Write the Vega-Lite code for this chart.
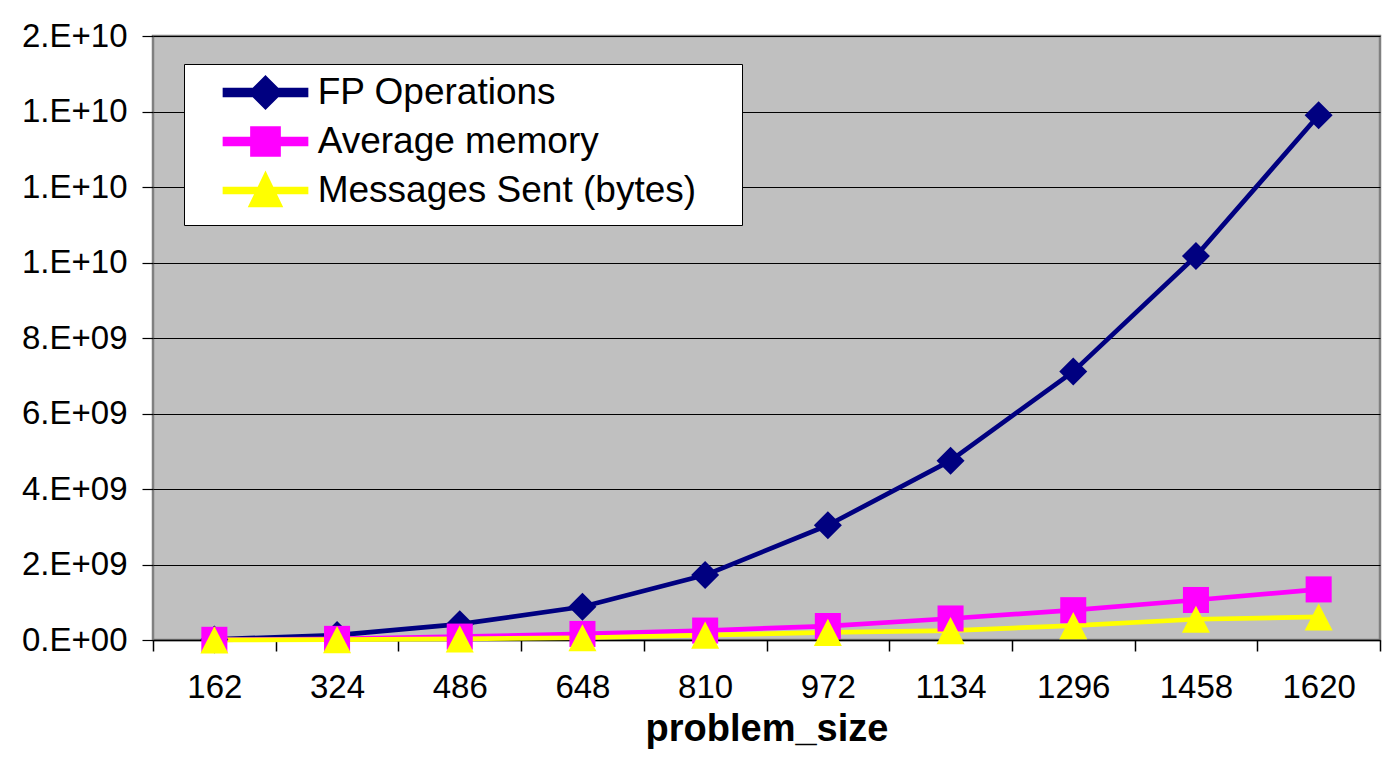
{
  "$schema": "https://vega.github.io/schema/vega-lite/v6.json",
  "width": 1227,
  "height": 604,
  "autosize": "none",
  "padding": {"left": 153, "top": 36, "right": 13, "bottom": 121},
  "background": "#ffffff",
  "config": {
    "font": "Liberation Sans",
    "view": {"fill": "#C0C0C0", "stroke": "#808080", "strokeWidth": 2.5}
  },
  "data": {
    "values": [
      {"problem_size": 162, "series": "FP Operations", "value": 15000000},
      {"problem_size": 324, "series": "FP Operations", "value": 130000000},
      {"problem_size": 486, "series": "FP Operations", "value": 420000000},
      {"problem_size": 648, "series": "FP Operations", "value": 880000000},
      {"problem_size": 810, "series": "FP Operations", "value": 1720000000},
      {"problem_size": 972, "series": "FP Operations", "value": 3040000000},
      {"problem_size": 1134, "series": "FP Operations", "value": 4750000000},
      {"problem_size": 1296, "series": "FP Operations", "value": 7110000000},
      {"problem_size": 1458, "series": "FP Operations", "value": 10170000000},
      {"problem_size": 1620, "series": "FP Operations", "value": 13900000000},
      {"problem_size": 162, "series": "Average memory", "value": 5000000},
      {"problem_size": 324, "series": "Average memory", "value": 30000000},
      {"problem_size": 486, "series": "Average memory", "value": 90000000},
      {"problem_size": 648, "series": "Average memory", "value": 160000000},
      {"problem_size": 810, "series": "Average memory", "value": 250000000},
      {"problem_size": 972, "series": "Average memory", "value": 370000000},
      {"problem_size": 1134, "series": "Average memory", "value": 570000000},
      {"problem_size": 1296, "series": "Average memory", "value": 790000000},
      {"problem_size": 1458, "series": "Average memory", "value": 1060000000},
      {"problem_size": 1620, "series": "Average memory", "value": 1340000000},
      {"problem_size": 162, "series": "Messages Sent (bytes)", "value": 2000000},
      {"problem_size": 324, "series": "Messages Sent (bytes)", "value": 10000000},
      {"problem_size": 486, "series": "Messages Sent (bytes)", "value": 30000000},
      {"problem_size": 648, "series": "Messages Sent (bytes)", "value": 60000000},
      {"problem_size": 810, "series": "Messages Sent (bytes)", "value": 130000000},
      {"problem_size": 972, "series": "Messages Sent (bytes)", "value": 200000000},
      {"problem_size": 1134, "series": "Messages Sent (bytes)", "value": 250000000},
      {"problem_size": 1296, "series": "Messages Sent (bytes)", "value": 380000000},
      {"problem_size": 1458, "series": "Messages Sent (bytes)", "value": 550000000},
      {"problem_size": 1620, "series": "Messages Sent (bytes)", "value": 610000000}
    ]
  },
  "resolve": {"axis": {"x": "independent"}},
  "layer": [
    {
      "mark": {"type": "line", "strokeJoin": "round"},
      "encoding": {
        "x": {
          "field": "problem_size", "type": "quantitative",
          "scale": {"domain": [81, 1701], "nice": false, "zero": false},
          "axis": {
            "orient": "bottom",
            "values": [81, 243, 405, 567, 729, 891, 1053, 1215, 1377, 1539, 1701],
            "labels": false, "grid": false, "title": null,
            "domain": true, "domainColor": "#000000", "domainWidth": 1.5,
            "ticks": true, "tickColor": "#000000", "tickWidth": 1.5, "tickSize": 11
          }
        },
        "y": {
          "field": "value", "type": "quantitative",
          "scale": {"domain": [0, 16000000000], "nice": false},
          "axis": {
            "values": [0, 2000000000, 4000000000, 6000000000, 8000000000, 10000000000, 12000000000, 14000000000, 16000000000],
            "title": null,
            "domain": false,
            "grid": true, "gridColor": "#000000", "gridWidth": 1, "gridOpacity": 1,
            "ticks": true, "tickColor": "#000000", "tickWidth": 1.2, "tickSize": 11,
            "labelFont": "Liberation Sans", "labelFontSize": 33, "labelColor": "#000000",
            "labelPadding": 15,
            "labelExpr": "replace(replace(format(datum.value, '.0e'), 'e', '.E'), regexp('\\\\+(\\\\d)$'), '+0$1')"
          }
        },
        "color": {
          "field": "series", "type": "nominal",
          "scale": {
            "domain": ["FP Operations", "Average memory", "Messages Sent (bytes)"],
            "range": ["#000080", "#FF00FF", "#FFFF00"]
          },
          "legend": {
            "title": " ",
            "titleOrient": "right",
            "titlePadding": 36,
            "titleFontSize": 37,
            "titleFont": "Liberation Sans",
            "orient": "none",
            "legendX": 31,
            "legendY": 28,
            "fillColor": "#ffffff",
            "strokeColor": "#000000",
            "padding": 10,
            "rowPadding": 2,
            "symbolOffset": 53,
            "labelOffset": 33.7,
            "symbolSize": 400,
            "symbolStrokeWidth": 0,
            "labelFont": "Liberation Sans",
            "labelFontSize": 37,
            "labelColor": "#000000",
            "labelLimit": 0,
            "encode": {
              "symbols": {
                "update": {
                  "shape": {"signal": "datum.value === 'FP Operations' ? 'M-4.05,-0.235H4.05V0.235H-4.05Z M0,-1.42L1.42,0L0,1.42L-1.42,0Z' : datum.value === 'Average memory' ? 'M-4.05,-0.235H4.05V0.235H-4.05Z M-1.3,-1.3H1.3V1.3H-1.3Z' : 'M-4.05,-0.15H4.05V0.15H-4.05Z M0,-1.45L1.4,1.45L-1.4,1.45Z'"},
                  "fill": {"scale": "color", "field": "value"},
                  "stroke": {"value": "transparent"},
                  "strokeWidth": {"value": 0},
                  "size": {"value": 400},
                  "opacity": {"value": 1}
                }
              }
            }
          }
        },
        "strokeWidth": {
          "field": "series", "type": "nominal",
          "scale": {
            "domain": ["FP Operations", "Average memory", "Messages Sent (bytes)"],
            "range": [4.7, 4.7, 3]
          },
          "legend": null
        }
      }
    },
    {
      "transform": [{"filter": "datum.series === 'FP Operations'"}],
      "mark": {"type": "point", "filled": true, "opacity": 1, "size": 784, "strokeWidth": 0, "shape": "M0,-1L1,0L0,1L-1,0Z"},
      "encoding": {
        "x": {
          "field": "problem_size", "type": "quantitative",
          "axis": {
            "orient": "bottom",
            "values": [162, 324, 486, 648, 810, 972, 1134, 1296, 1458, 1620],
            "format": "d",
            "title": "problem_size",
            "titleFont": "Liberation Sans", "titleFontSize": 38, "titleFontWeight": "bold", "titleColor": "#000000",
            "titlePadding": 6,
            "domain": false, "ticks": false, "grid": false,
            "labelFont": "Liberation Sans", "labelFontSize": 33, "labelColor": "#000000",
            "labelPadding": 31
          }
        },
        "y": {"field": "value", "type": "quantitative"},
        "color": {"field": "series", "type": "nominal", "legend": null}
      }
    },
    {
      "transform": [{"filter": "datum.series === 'Average memory'"}],
      "mark": {"type": "point", "filled": true, "opacity": 1, "size": 784, "strokeWidth": 0, "shape": "M-0.93,-0.93H0.93V0.93H-0.93Z"},
      "encoding": {
        "x": {"field": "problem_size", "type": "quantitative", "axis": null},
        "y": {"field": "value", "type": "quantitative"},
        "color": {"field": "series", "type": "nominal", "legend": null}
      }
    },
    {
      "transform": [{"filter": "datum.series === 'Messages Sent (bytes)'"}],
      "mark": {"type": "point", "filled": true, "opacity": 1, "size": 784, "strokeWidth": 0, "shape": "M0,-0.97L1,0.97L-1,0.97Z"},
      "encoding": {
        "x": {"field": "problem_size", "type": "quantitative", "axis": null},
        "y": {"field": "value", "type": "quantitative"},
        "color": {"field": "series", "type": "nominal", "legend": null}
      }
    }
  ]
}
